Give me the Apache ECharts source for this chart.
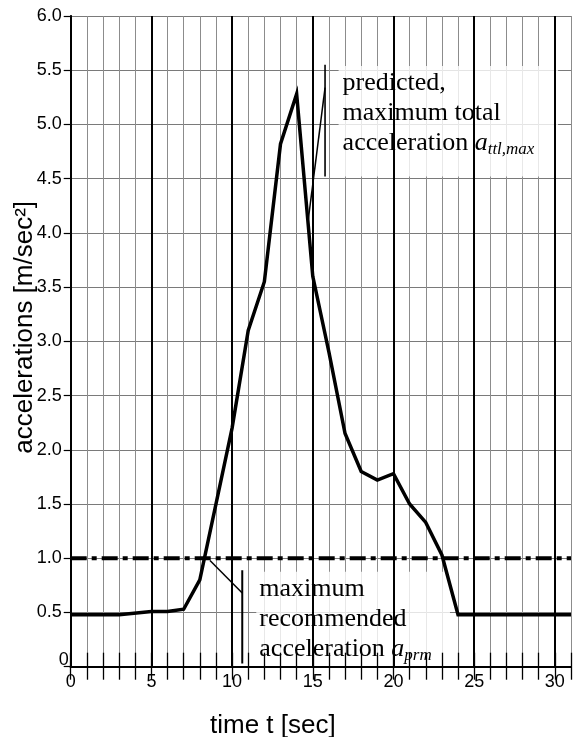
<!DOCTYPE html>
<html>
<head>
<meta charset="utf-8">
<script src="https://cdn.jsdelivr.net/npm/echarts@6/dist/echarts.min.js"></script>
<style>html,body{margin:0;padding:0;background:#fff;}#c{width:573px;height:737px;}</style>
</head>
<body>
<div id="c"></div>
<script>
// ---- data ----
const timeSec = [0, 3, 5, 6, 7, 8, 9, 10, 11, 12, 13, 14, 15, 16, 17, 18, 19, 20, 21, 22, 23, 24, 31];
const accel   = [0.48, 0.48, 0.51, 0.51, 0.53, 0.80, 1.50, 2.20, 3.10, 3.55, 4.82, 5.28, 3.60, 2.90, 2.15, 1.80, 1.72, 1.78, 1.50, 1.33, 1.03, 0.48, 0.48];
const recommendedLimit = 1.0;
const xTickLabels = ['0', '5', '10', '15', '20', '25', '30'];
const yTickLabels = ['0', '0.5', '1.0', '1.5', '2.0', '2.5', '3.0', '3.5', '4.0', '4.5', '5.0', '5.5', '6.0'];
const majorTimes = [5, 10, 15, 20, 25, 30];
const topPointerDiag = [[14.72, 4.12], [15.76, 5.34]];
const topPointerBar  = [[15.76, 4.52], [15.76, 5.55]];
const botPointerDiag = [[8.63, 0.98], [10.63, 0.68]];
const botPointerBar  = [[10.63, 0.03], [10.63, 0.89]];

const SANS = 'Liberation Sans, Arial, sans-serif';
const SERIF = 'Liberation Serif, Times New Roman, serif';

const chart = echarts.init(document.getElementById('c'), null, {renderer: 'canvas'});

const rich = {
  t:  {fontFamily: SERIF, fontSize: 26, lineHeight: 30, color: '#000'},
  it: {fontFamily: SERIF, fontStyle: 'italic', fontSize: 26, lineHeight: 30, color: '#000'},
  sb: {fontFamily: SERIF, fontStyle: 'italic', fontSize: 17, lineHeight: 12, verticalAlign: 'bottom', color: '#000'}
};

function pairs(xs, ys) { return xs.map((x, i) => [x, ys[i]]); }

const option = {
  animation: false,
  backgroundColor: '#fff',
  grid: {left: 70.7, top: 16, right: 2, bottom: 70.3, containLabel: false, outerBoundsMode: 'none'},
  xAxis: [
    {
      type: 'value', min: 0, max: 31, interval: 1, position: 'bottom', z: 10,
      axisLine: {show: true, lineStyle: {color: '#000', width: 2}},
      axisTick: {show: true, inside: true, length: 14, lineStyle: {color: '#000', width: 1.3}},
      axisLabel: {
        show: true, margin: 6, color: '#000', fontFamily: SANS, fontSize: 18,
        formatter: v => xTickLabels.includes(String(v)) ? String(v) : ''
      },
      splitLine: {show: false},
      name: 'time t [sec]', nameLocation: 'middle', nameGap: 46, nameMoveOverlap: false,
      nameTextStyle: {fontFamily: SANS, fontSize: 26, color: '#000', padding: [0, 96, 0, 0]}
    },
    {
      type: 'value', min: 0, max: 31, interval: 1, position: 'top', z: 0,
      axisLine: {show: true, lineStyle: {color: '#000', width: 2}},
      axisTick: {show: true, inside: true, length: 13, lineStyle: {color: '#000', width: 1.3}},
      axisLabel: {show: false},
      splitLine: {show: true, lineStyle: {color: '#8c8c8c', width: 1}}
    }
  ],
  yAxis: [
    {
      type: 'value', min: 0, max: 6, interval: 0.5, position: 'left', z: 0,
      axisLine: {show: true, lineStyle: {color: '#000', width: 2}},
      axisTick: {show: true, inside: false, length: 6, lineStyle: {color: '#777', width: 1}},
      axisLabel: {
        show: true, margin: 9, color: '#000', fontFamily: SANS, fontSize: 18,
        formatter: v => { const i = Math.round(v / 0.5); return i === 0 ? '' : yTickLabels[i]; }
      },
      splitLine: {show: true, lineStyle: {color: '#7a7a7a', width: 1}},
      name: 'accelerations [m/sec²]', nameLocation: 'middle', nameGap: 33, nameMoveOverlap: false,
      nameTextStyle: {fontFamily: SANS, fontSize: 26, color: '#000', padding: [0, 0, 0, 28]}
    },
    {
      type: 'value', min: 0, max: 6, interval: 0.5, position: 'right', z: 10,
      axisLine: {show: true, lineStyle: {color: '#000', width: 1.5}},
      axisTick: {show: true, inside: true, length: 7, lineStyle: {color: '#000', width: 1.2}},
      axisLabel: {show: false},
      splitLine: {show: false}
    }
  ],
  series: [
    {
      // major vertical grid lines
      type: 'line', data: [], z: 2, silent: true,
      markLine: {
        silent: true, symbol: ['none', 'none'], label: {show: false},
        lineStyle: {color: '#000', width: 2, type: 'solid'},
        data: majorTimes.map(t => ({xAxis: t}))
      }
    },
    {
      // annotation boxes
      type: 'line', data: [], z: 3, silent: true,
      markArea: {
        silent: true,
        itemStyle: {color: 'rgba(255,255,255,0.8)'},
        label: {show: true, position: 'insideTopLeft', distance: 0, fontFamily: SERIF, fontSize: 26, color: '#000', rich: rich},
        data: [
          [{coord: [16.6, 5.54], label: {padding: [2, 0, 0, 4], formatter: '{t|predicted,}\n{t|maximum total}\n{t|acceleration }{it|a}{sb|ttl,max}'}},
           {coord: [30.2, 4.52]}],
          [{coord: [11.5, 0.876], label: {padding: [2, 0, 0, 3], formatter: '{t|maximum}\n{t|recommended}\n{t|acceleration }{it|a}{sb|prm}'}},
           {coord: [23.5, 0]}]
        ]
      }
    },
    {
      type: 'line', z: 4, silent: true, symbol: 'none',
      data: [[0, recommendedLimit], [31, recommendedLimit]],
      lineStyle: {color: '#000', width: 4, type: [16, 5, 5, 5]}
    },
    {type: 'line', z: 4, silent: true, symbol: 'none', data: topPointerDiag, lineStyle: {color: '#000', width: 1.5}},
    {type: 'line', z: 4, silent: true, symbol: 'none', data: topPointerBar, lineStyle: {color: '#000', width: 1.6}},
    {type: 'line', z: 4, silent: true, symbol: 'none', data: botPointerDiag, lineStyle: {color: '#000', width: 1.5}},
    {type: 'line', z: 4, silent: true, symbol: 'none', data: botPointerBar, lineStyle: {color: '#000', width: 2}},
    {
      type: 'line', z: 5, silent: true, symbol: 'none',
      data: pairs(timeSec, accel),
      lineStyle: {color: '#000', width: 3.5, join: 'miter'}
    }
  ]
};
chart.setOption(option);

const zeroY = chart.convertToPixel({yAxisIndex: 0}, 0);
const axisX = chart.convertToPixel({xAxisIndex: 0}, 0);
chart.setOption({
  graphic: [{
    type: 'text', x: axisX - 2, y: zeroY - 7, z: 20,
    style: {text: yTickLabels[0], fill: '#000', font: '18px ' + SANS, align: 'right', verticalAlign: 'middle'}
  }]
});
</script>
</body>
</html>
